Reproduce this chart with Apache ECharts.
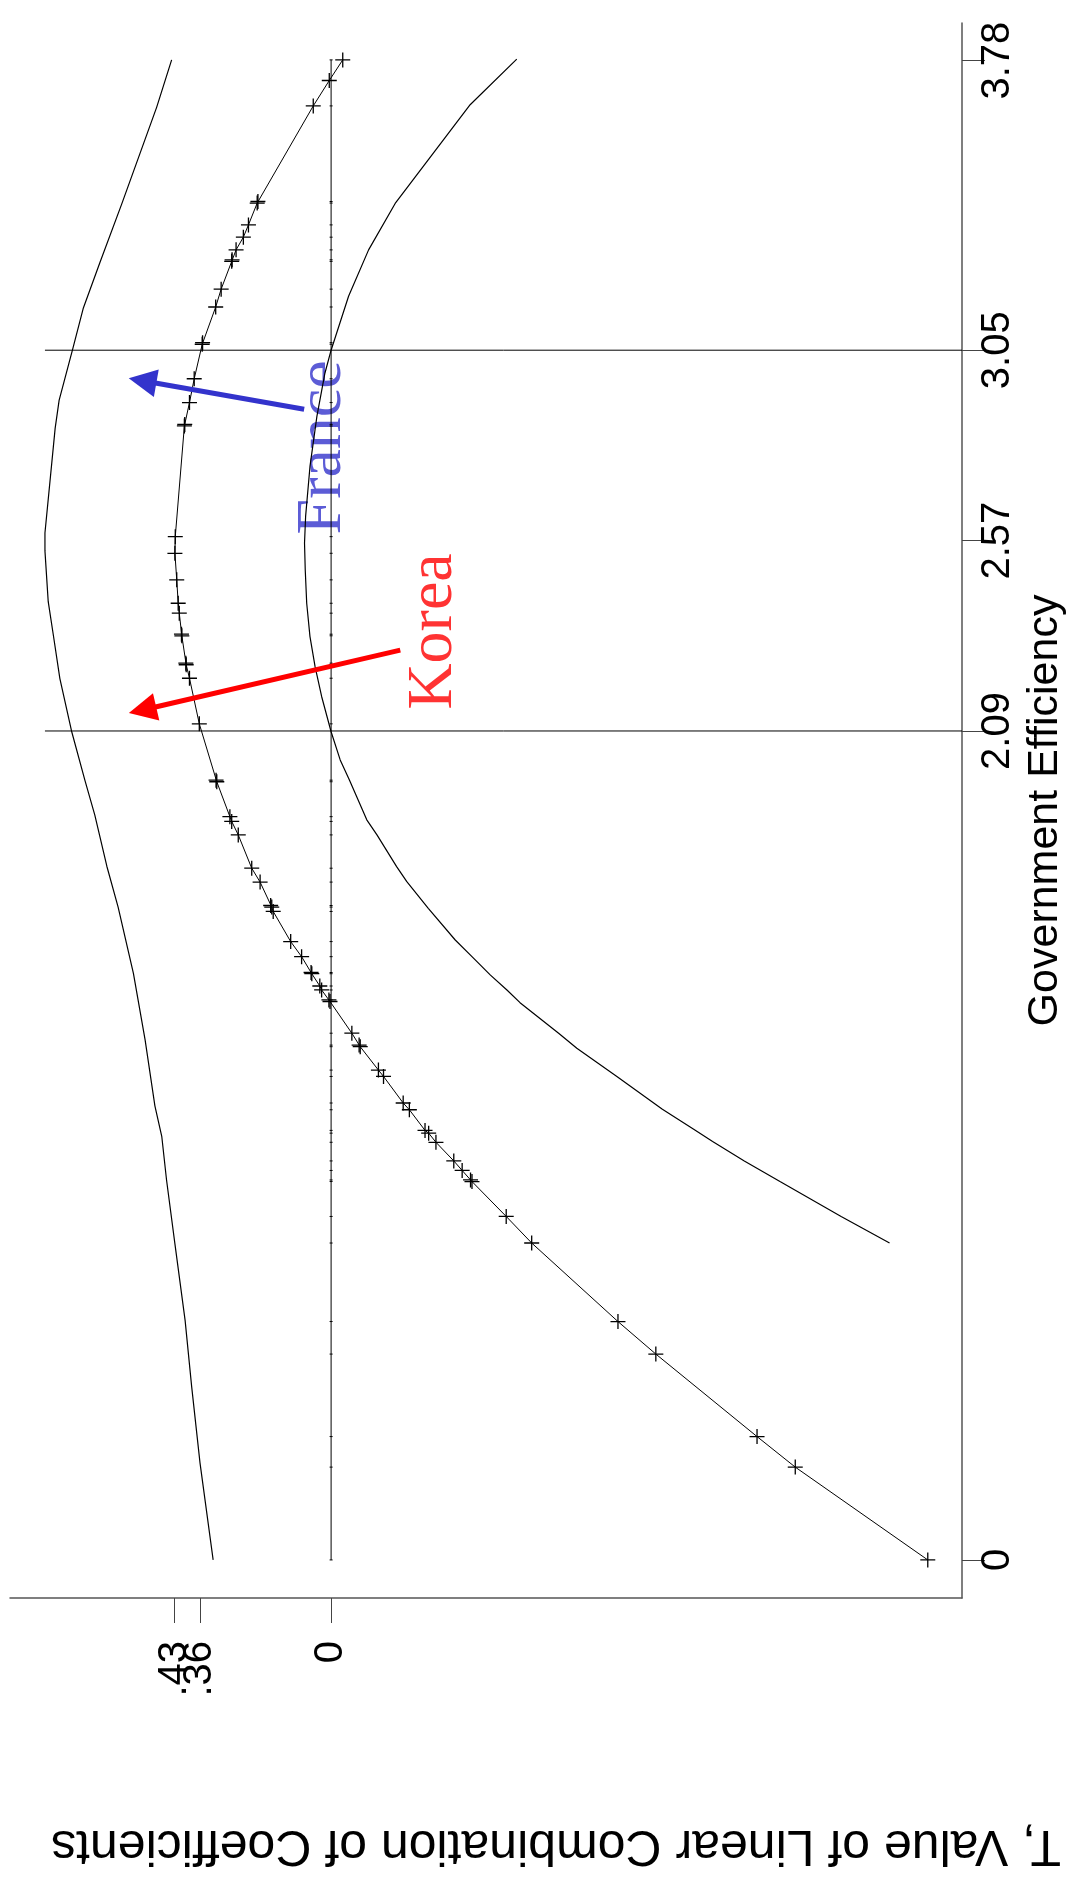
<!DOCTYPE html>
<html>
<head>
<meta charset="utf-8">
<script src="https://cdn.jsdelivr.net/npm/echarts@6/dist/echarts.min.js"></script>
<style>
html, body { margin: 0; padding: 0; background: #fff; }
#chart { width: 1070px; height: 1896px; }
</style>
</head>
<body>
<div id="chart"></div>
<script>
// observations: government efficiency and the estimated T at that value
var geObs = [0, 0.234, 0.311, 0.519, 0.601, 0.799, 0.866, 0.954, 0.958, 0.982,
  1.006, 1.053, 1.076, 1.083, 1.135, 1.152, 1.219, 1.235, 1.294, 1.298,
  1.328, 1.408, 1.412, 1.437, 1.447, 1.478, 1.481, 1.521, 1.559, 1.635,
  1.646, 1.650, 1.709, 1.744, 1.828, 1.862, 1.874, 1.962, 1.966, 2.108,
  2.223, 2.257, 2.261, 2.330, 2.334, 2.387, 2.412, 2.471, 2.538, 2.580,
  2.859, 2.863, 2.918, 2.978, 3.065, 3.069, 3.159, 3.204, 3.274, 3.278,
  3.303, 3.335, 3.366, 3.421, 3.425, 3.666, 3.730, 3.782];
var tCenter = [-1.639, -1.275, -1.170, -0.892, -0.788, -0.551, -0.481, -0.387, -0.383, -0.360,
  -0.337, -0.288, -0.268, -0.258, -0.215, -0.198, -0.144, -0.130, -0.080, -0.077,
  -0.057, 0.003, 0.006, 0.026, 0.031, 0.053, 0.055, 0.081, 0.111, 0.159,
  0.163, 0.166, 0.195, 0.218, 0.255, 0.273, 0.278, 0.314, 0.316, 0.362,
  0.389, 0.398, 0.399, 0.410, 0.411, 0.417, 0.420, 0.424, 0.429, 0.428,
  0.403, 0.402, 0.389, 0.376, 0.354, 0.353, 0.317, 0.302, 0.273, 0.272,
  0.261, 0.241, 0.227, 0.203, 0.201, 0.049, 0.005, -0.032];

// upper confidence band
var upperGE = [0, 0.244, 0.437, 0.604, 0.797, 0.958, 1.067, 1.145, 1.312, 1.479,
  1.646, 1.749, 1.878, 1.965, 2.090, 2.222, 2.332, 2.416, 2.544, 2.589,
  2.853, 2.924, 3.052, 3.155, 3.271, 3.419, 3.663, 3.782];
var upperT = [0.324, 0.360, 0.383, 0.401, 0.429, 0.452, 0.465, 0.484, 0.511, 0.543,
  0.585, 0.616, 0.649, 0.676, 0.713, 0.745, 0.763, 0.777, 0.786, 0.786,
  0.758, 0.747, 0.710, 0.681, 0.635, 0.575, 0.479, 0.438];

// lower confidence band
var lowerGE = [0.799, 0.866, 0.954, 1.006, 1.055, 1.086, 1.136, 1.164, 1.219, 1.290,
  1.328, 1.405, 1.437, 1.475, 1.521, 1.563, 1.643, 1.710, 1.748, 1.828,
  1.866, 1.967, 2.017, 2.088, 2.177, 2.252, 2.328, 2.412, 2.496, 2.564,
  2.631, 2.757, 2.883, 2.992, 3.050, 3.186, 3.303, 3.420, 3.669, 3.784];
var lowerT = [-1.534, -1.401, -1.233, -1.135, -1.048, -0.996, -0.910, -0.868, -0.785, -0.675,
  -0.625, -0.519, -0.483, -0.437, -0.387, -0.341, -0.267, -0.208, -0.180, -0.126,
  -0.098, -0.050, -0.025, 0, 0.026, 0.044, 0.058, 0.067, 0.071, 0.073,
  0.070, 0.058, 0.039, 0.017, 0, -0.048, -0.103, -0.176, -0.382, -0.510];

var geTicks = [0, 2.09, 2.57, 3.05, 3.78];
var tTicks = [0, 0.36];
var tTicksExtra = [0.43];   // drawn on its own axis so it is not hidden by the .36 overlap
var refGE = [2.09, 3.05];
var noteNames = ['Korea', 'France'];

var sans = "'Liberation Sans', Arial, sans-serif";
var serif = "'Liberation Serif', 'Times New Roman', serif";
var plus = 'path://M6.85,0h1.3v15h-1.3z M0,6.85h15v1.3h-15z';

var chart = echarts.init(document.getElementById('chart'));

function tAxis(ticks, showLine) {
  return {
    type: 'value', inverse: true, min: -1.733, max: 0.882, position: 'bottom',
    axisLine: { show: showLine, onZero: false, lineStyle: { color: '#555', width: 1.5 } },
    axisTick: { customValues: ticks, length: 25, lineStyle: { color: '#444', width: 1 } },
    axisLabel: {
      customValues: ticks, rotate: 90, margin: 43, fontSize: 40, fontFamily: sans, color: '#000',
      hideOverlap: false,
      formatter: function (v) { return v === 0 ? '0' : String(v).replace(/^0/, ''); }
    },
    splitLine: { show: false }
  };
}

var refSeries = refGE.map(function (g) {
  return {
    type: 'line', silent: true, showSymbol: false, symbol: 'none',
    lineStyle: { color: '#000', width: 1 },
    data: [[0.786, g], [-1.733, g]]
  };
});

var option = {
  animation: false,
  backgroundColor: '#fff',
  grid: { left: 10, right: 108, top: 23, bottom: 298, outerBoundsMode: 'none' },
  xAxis: [tAxis(tTicks, true), tAxis(tTicksExtra, false)],
  yAxis: {
    type: 'value', min: -0.096, max: 3.875, position: 'right',
    name: 'Government Efficiency', nameLocation: 'middle', nameRotate: 90, nameGap: 62,
    nameMoveOverlap: false,
    nameTextStyle: { fontSize: 43, fontFamily: sans, color: '#000' },
    axisLine: { onZero: false, lineStyle: { color: '#555', width: 1.5 } },
    axisTick: { customValues: geTicks, length: 23, lineStyle: { color: '#444', width: 1 } },
    axisLabel: {
      customValues: geTicks, rotate: 90, margin: 16, fontSize: 40, fontFamily: sans, color: '#000',
      hideOverlap: false,
      formatter: function (v) { return v === 0 ? '0' : v.toFixed(2); }
    },
    splitLine: { show: false }
  },
  graphic: [{
    type: 'text', x: 556, y: 1845, rotation: Math.PI,
    style: {
      text: 'T, Value of Linear Combination of Coefficients',
      fontSize: 50, fontFamily: sans, fill: '#000', align: 'center', verticalAlign: 'middle'
    }
  }],
  series: [{
    name: 'upper', type: 'line', silent: true, showSymbol: false, symbol: 'none',
    lineStyle: { color: '#000', width: 1.2 },
    data: upperGE.map(function (g, i) { return [upperT[i], g]; })
  }, {
    name: 'lower', type: 'line', silent: true, showSymbol: false, symbol: 'none',
    lineStyle: { color: '#000', width: 1.2 },
    data: lowerGE.map(function (g, i) { return [lowerT[i], g]; })
  }, {
    name: 'zero', type: 'line', silent: true, symbol: 'rect', symbolSize: [3, 1],
    itemStyle: { color: '#000' },
    lineStyle: { color: '#000', width: 1 },
    data: geObs.map(function (g) { return [0, g]; })
  }, {
    name: 'estimate', type: 'line', silent: true, symbol: plus, symbolSize: 15,
    itemStyle: { color: '#000' },
    lineStyle: { color: '#000', width: 1 },
    data: geObs.map(function (g, i) { return [tCenter[i], g]; })
  }].concat(refSeries).concat([{
    name: 'notes', type: 'scatter', silent: true, symbolSize: 1,
    itemStyle: { color: 'rgba(0,0,0,0)' },
    label: {
      show: true, formatter: '{b}', position: 'inside', rotate: 90,
      fontSize: 64, fontFamily: serif, align: 'center', verticalAlign: 'middle'
    },
    data: [
      { name: noteNames[0], value: [-0.283, 2.341], label: { color: '#ff0000' } },
      { name: noteNames[1], value: [0.022, 2.805], label: { color: '#3333cc' } }
    ],
    markLine: {
      silent: true, symbol: ['none', 'triangle'], symbolSize: 28,
      label: { show: false },
      data: [
        [{ coord: [-0.190, 2.294], lineStyle: { color: '#ff0000', width: 5, type: 'solid' }, itemStyle: { color: '#ff0000' } },
         { coord: [0.518, 2.143], lineStyle: { color: '#ff0000', width: 5, type: 'solid' }, itemStyle: { color: '#ff0000' } }],
        [{ coord: [0.074, 2.901], lineStyle: { color: '#3333cc', width: 5, type: 'solid' }, itemStyle: { color: '#3333cc' } },
         { coord: [0.518, 2.973], lineStyle: { color: '#3333cc', width: 5, type: 'solid' }, itemStyle: { color: '#3333cc' } }]
      ]
    }
  }])
};

chart.setOption(option);
</script>
</body>
</html>
